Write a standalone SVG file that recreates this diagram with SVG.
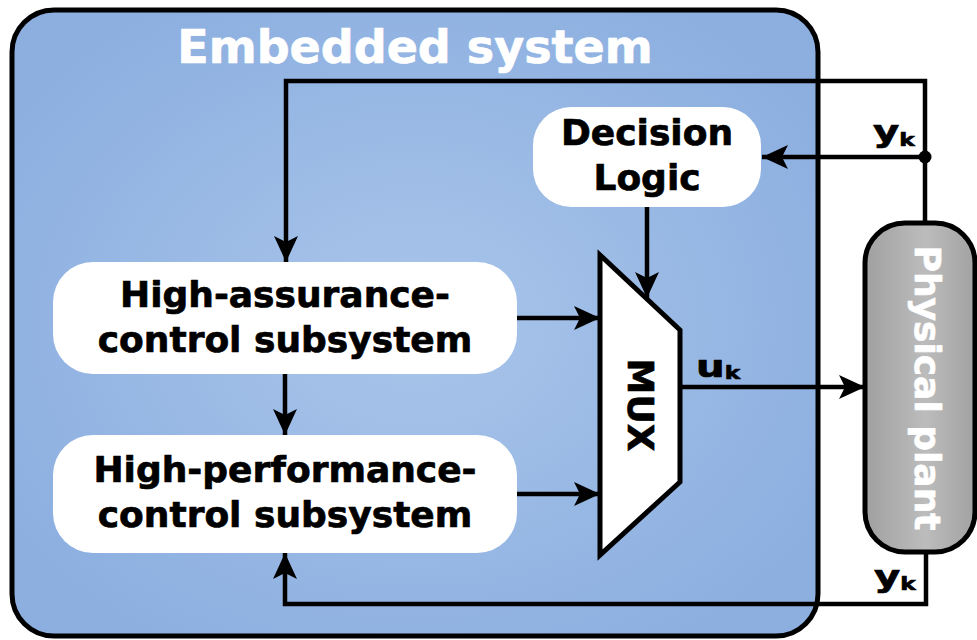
<svg xmlns="http://www.w3.org/2000/svg" width="977" height="640" viewBox="0 0 977 640">
  <defs>
    <radialGradient id="embeddedFill" cx="0.5" cy="0.5" r="0.6">
      <stop offset="0" stop-color="#a9c5ea"/>
      <stop offset="1" stop-color="#8cafe0"/>
    </radialGradient>
    <linearGradient id="plantFill" x1="0" y1="0" x2="1" y2="0">
      <stop offset="0" stop-color="#a0a0a0"/>
      <stop offset="0.55" stop-color="#bcbcbc"/>
      <stop offset="1" stop-color="#a2a2a2"/>
    </linearGradient>
    <marker id="arrow" markerUnits="userSpaceOnUse" markerWidth="30" markerHeight="26" refX="26" refY="12" orient="auto">
      <path d="M26,12 L0,0 L6,12 L0,24 Z" fill="#000"/>
    </marker>
    <style>
      .lbl { font-family: "DejaVu Sans", "Liberation Sans", sans-serif; font-weight: bold; stroke-width: 0.7; stroke-linejoin: round; }
      .node { font-size: 36px; fill: #000; stroke: #000; text-anchor: middle; }
      .white { fill: #fff; stroke: #fff; }
      .sig { fill: #000; stroke: #000; }
      .wire { fill: none; stroke: #000; stroke-width: 4.5; stroke-linejoin: miter; }
      .card { fill: #fff; }
    </style>
  </defs>

  <!-- embedded system container -->
  <g id="embedded-system">
    <rect x="12" y="10" width="806" height="626" rx="42" ry="42" fill="url(#embeddedFill)" stroke="#000" stroke-width="5"/>
    <text class="lbl white" x="415" y="63" font-size="46" text-anchor="middle">Embedded system</text>
  </g>

  <g id="decision-logic">
    <rect class="card" x="533" y="107" width="228" height="100" rx="38" ry="38"/>
    <text class="lbl node" x="647" y="145">Decision</text>
    <text class="lbl node" x="647" y="190">Logic</text>
  </g>

  <g id="high-assurance">
    <rect class="card" x="53" y="262" width="464" height="112" rx="40" ry="40"/>
    <text class="lbl node" x="285" y="307">High-assurance-</text>
    <text class="lbl node" x="285" y="352">control subsystem</text>
  </g>

  <g id="high-performance">
    <rect class="card" x="53" y="435" width="464" height="118" rx="40" ry="40"/>
    <text class="lbl node" x="285" y="482">High-performance-</text>
    <text class="lbl node" x="285" y="527">control subsystem</text>
  </g>

  <g id="mux">
    <polygon points="600,255 680,330 680,482 600,555" fill="#fff" stroke="#000" stroke-width="5" stroke-linejoin="miter"/>
    <text class="lbl node" transform="translate(628,405) rotate(90)" x="0" y="0">MUX</text>
  </g>

  <g id="physical-plant">
    <rect x="865" y="223" width="110" height="329" rx="40" ry="40" fill="url(#plantFill)" stroke="#000" stroke-width="5"/>
    <text class="lbl white" font-size="36" text-anchor="middle" transform="translate(915,388) rotate(90)" x="0" y="0">Physical plant</text>
  </g>

  <g id="connectors">
    <!-- measured output fed back over the top -->
    <path class="wire" d="M925,223 V81 H286 V262" marker-end="url(#arrow)"/>
    <path class="wire" d="M925,157 H762" marker-end="url(#arrow)"/>
    <circle cx="925" cy="157" r="6.5" fill="#000"/>
    <!-- selector -->
    <path class="wire" d="M647,207 V298" marker-end="url(#arrow)"/>
    <!-- controller outputs into the mux -->
    <path class="wire" d="M517,318 H600" marker-end="url(#arrow)"/>
    <path class="wire" d="M517,494 H600" marker-end="url(#arrow)"/>
    <path class="wire" d="M285,374 V435" marker-end="url(#arrow)"/>
    <!-- control input to the plant -->
    <path class="wire" d="M680,387 H865" marker-end="url(#arrow)"/>
    <!-- measured output fed back underneath -->
    <path class="wire" d="M926,552 V604 H285 V553" marker-end="url(#arrow)"/>
  </g>

  <g id="signal-labels">
    <text class="lbl sig" transform="translate(873,142) scale(1.3,1)" font-size="31">y<tspan font-size="18" dy="4">k</tspan></text>
    <text class="lbl sig" transform="translate(696,377) scale(1.3,1)" font-size="31">u<tspan font-size="18" dy="2">k</tspan></text>
    <text class="lbl sig" transform="translate(874,587) scale(1.3,1)" font-size="31">y<tspan font-size="18" dy="3">k</tspan></text>
  </g>
</svg>
